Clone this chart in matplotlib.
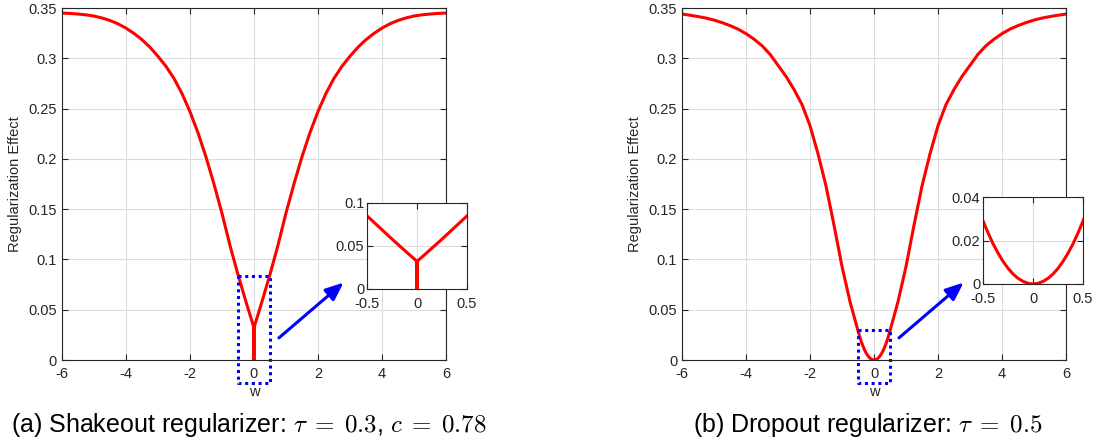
import numpy as np
import matplotlib
matplotlib.use('Agg')
import matplotlib.pyplot as plt

plt.rcParams['font.family'] = ['Liberation Sans', 'DejaVu Sans']
plt.rcParams['mathtext.fontset'] = 'cm'
plt.rcParams['axes.unicode_minus'] = False

# values (w, regularization effect)
w_shake = [-6, -5.75, -5.5, -5.25, -5, -4.75, -4.5, -4.25, -4, -3.75, -3.5, -3.25, -3, -2.75,
           -2.5, -2.25, -2, -1.75, -1.5, -1.25, -1, -0.75, -0.5, -0.25, 0, 0,
           0, 0.25, 0.5, 0.75, 1, 1.25, 1.5, 1.75, 2, 2.25, 2.5, 2.75, 3, 3.25,
           3.5, 3.75, 4, 4.25, 4.5, 4.75, 5, 5.25, 5.5, 5.75, 6]
r_shake = [0.345, 0.3446, 0.344, 0.3432, 0.342, 0.3401, 0.3376, 0.3343, 0.330, 0.3247, 0.3185, 0.311, 0.302, 0.292,
           0.280, 0.265, 0.247, 0.226, 0.202, 0.175, 0.146, 0.114, 0.085, 0.058, 0.032, 0.0,
           0.032, 0.058, 0.085, 0.114, 0.146, 0.175, 0.202, 0.226, 0.247, 0.265, 0.280, 0.292, 0.302, 0.311,
           0.3185, 0.3247, 0.330, 0.3343, 0.3376, 0.3401, 0.342, 0.3432, 0.344, 0.3446, 0.345]

w_drop = [-6, -5.75, -5.5, -5.25, -5, -4.75, -4.5, -4.25, -4, -3.75, -3.5, -3.25, -3, -2.75,
          -2.5, -2.25, -2, -1.75, -1.5, -1.25, -1, -0.75, -0.5, -0.45, -0.4, -0.35, -0.3, -0.25,
          -0.2, -0.15, -0.1, -0.05, 0, 0.05, 0.1, 0.15, 0.2, 0.25, 0.3, 0.35, 0.4, 0.45,
          0.5, 0.75, 1, 1.25, 1.5, 1.75, 2, 2.25, 2.5,
          2.75, 3, 3.25, 3.5, 3.75, 4, 4.25, 4.5, 4.75, 5, 5.25, 5.5, 5.75, 6]
r_drop = [0.344, 0.3428, 0.3415, 0.340, 0.338, 0.3355, 0.3325, 0.329, 0.3245, 0.319, 0.3125, 0.304, 0.293, 0.282,
          0.269, 0.254, 0.233, 0.205, 0.173, 0.134, 0.093, 0.058, 0.029, 0.0235, 0.0185, 0.0142, 0.0104, 0.0072,
          0.0046, 0.0026, 0.0012, 0.0003, 0.0, 0.0003, 0.0012, 0.0026, 0.0046, 0.0072, 0.0104, 0.0142, 0.0185, 0.0235,
          0.029, 0.058, 0.093, 0.134, 0.173, 0.205, 0.233, 0.254, 0.269,
          0.282, 0.293, 0.304, 0.3125, 0.319, 0.3245, 0.329, 0.3325, 0.3355, 0.338, 0.340, 0.3415, 0.3428, 0.344]

captions = [r'(a) Shakeout regularizer: $\tau\;=\;0.3$, $c\;=\;0.78$',
            r'(b) Dropout regularizer: $\tau\;=\;0.5$']
box_tops = [0.084, 0.030]
inset_ylims = [0.1, 0.04]
inset_yticks = [[0, 0.05, 0.1], [0, 0.02, 0.04]]
inset_yticklabels = [['0', '0.05', '0.1'], ['0', '0.02', '0.04']]

axcol = '#262626'
fig = plt.figure(figsize=(10.93, 4.45), dpi=100)

main_pos = [[0.0567, 0.191, 0.3513, 0.791], [0.624, 0.191, 0.3513, 0.791]]
inset_pos = [[0.3358, 0.3506, 0.0915, 0.1933], [0.8994, 0.3618, 0.0915, 0.1955]]
cap_x = [0.2278, 0.794]

def style(ax, fs):
    for s in ax.spines.values():
        s.set_color(axcol)
        s.set_linewidth(0.8)
    ax.tick_params(direction='in', top=True, right=True, length=4, width=0.8,
                   colors=axcol, labelsize=fs, labelcolor=axcol)
    ax.grid(True, color='#dcdcdc', linewidth=0.8)
    ax.set_axisbelow(True)

data = [(w_shake, r_shake), (w_drop, r_drop)]
for i in range(2):
    w, r = data[i]
    ax = fig.add_axes(main_pos[i])
    ax.plot(w, r, color='red', linewidth=2.2, solid_joinstyle='round')
    ax.set_xlim(-6, 6)
    ax.set_ylim(0, 0.35)
    ax.set_xticks([-6, -4, -2, 0, 2, 4, 6])
    ax.set_yticks([0, 0.05, 0.1, 0.15, 0.2, 0.25, 0.3, 0.35])
    ax.set_yticklabels(['0', '0.05', '0.1', '0.15', '0.2', '0.25', '0.3', '0.35'])
    style(ax, 10.5)
    ax.tick_params(axis='x', pad=5)
    ax.set_xlabel('w', fontsize=10.5, color=axcol, labelpad=3)
    ax.set_ylabel('Regularization Effect', fontsize=10.5, color=axcol, labelpad=5)

    # dotted zoom box
    bx = [-0.5, 0.51, 0.51, -0.5, -0.5]
    by = [box_tops[i], box_tops[i], -0.023, -0.023, box_tops[i]]
    ax.plot(bx, by, color='blue', linestyle=(0, (1, 1.2)), linewidth=2.2, clip_on=False)
    ax.annotate('', xy=(2.8, 0.077), xytext=(0.78, 0.022),
                arrowprops=dict(arrowstyle='-|>,head_length=0.6,head_width=0.25', color='blue', lw=2.2,
                                mutation_scale=18, shrinkA=0, shrinkB=0))

    ins = fig.add_axes(inset_pos[i])
    ins.plot(w, r, color='red', linewidth=2.2, solid_joinstyle='round')
    ins.set_xlim(-0.5, 0.5)
    ins.set_ylim(0, inset_ylims[i])
    ins.set_xticks([-0.5, 0, 0.5])
    ins.set_xticklabels(['-0.5', '0', '0.5'])
    ins.set_yticks(inset_yticks[i])
    ins.set_yticklabels(inset_yticklabels[i])
    style(ins, 10.5)
    ins.tick_params(axis='x', pad=6)
    ins.tick_params(axis='y', pad=2)

    fig.text(cap_x[i], 0.045, captions[i], fontsize=18, ha='center', va='center')

plt.savefig('out.png', dpi=100)
